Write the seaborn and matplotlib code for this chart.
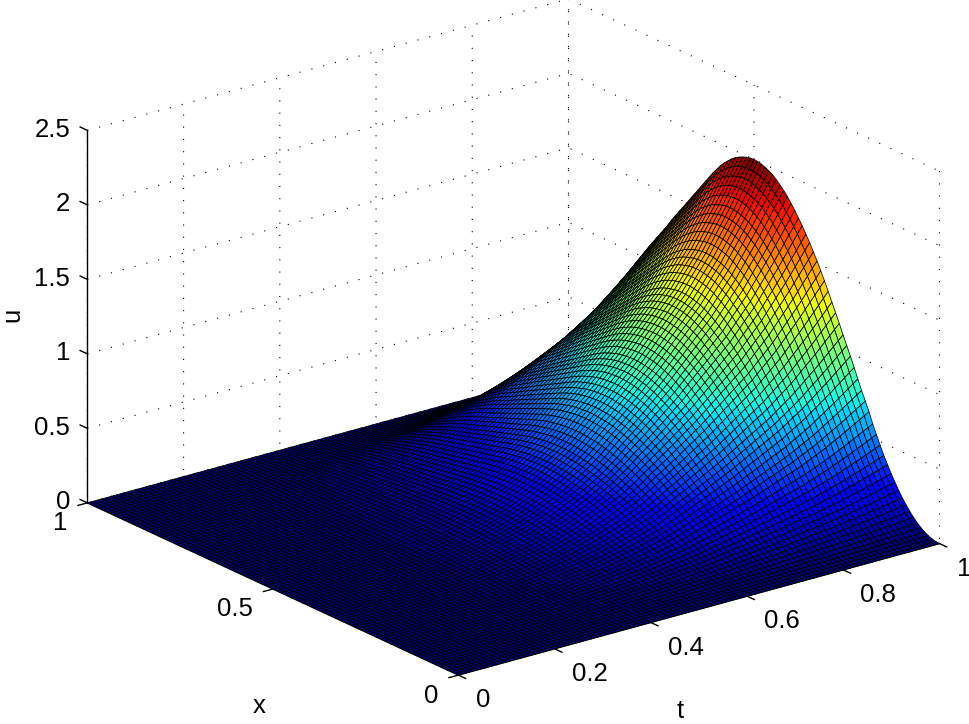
import numpy as np
import matplotlib
matplotlib.use("Agg")
import matplotlib.pyplot as plt
import seaborn as sns

# profiles of u, one value per mesh line (101 lines each way).
# the surface is rebuilt as their product, single cells can't be read one by one
x_profile = [
    0.000, 0.002, 0.008, 0.018, 0.031, 0.049, 0.070, 0.095, 0.124, 0.156,
    0.191, 0.230, 0.273, 0.318, 0.367, 0.418, 0.475, 0.535, 0.595, 0.665,
    0.725, 0.785, 0.850, 0.915, 0.980, 1.040, 1.100, 1.165, 1.225, 1.285,
    1.345, 1.405, 1.460, 1.515, 1.565, 1.615, 1.660, 1.705, 1.745, 1.785,
    1.820, 1.855, 1.885, 1.910, 1.935, 1.955, 1.970, 1.982, 1.992, 1.998,
    2.000, 1.998, 1.992, 1.982, 1.970, 1.955, 1.935, 1.910, 1.885, 1.855,
    1.820, 1.785, 1.745, 1.705, 1.665, 1.625, 1.585, 1.545, 1.505, 1.465,
    1.425, 1.385, 1.345, 1.300, 1.260, 1.220, 1.180, 1.140, 1.100, 1.050,
    1.000, 0.950, 0.900, 0.845, 0.790, 0.730, 0.675, 0.615, 0.550, 0.480,
    0.410, 0.345, 0.285, 0.230, 0.180, 0.140, 0.105, 0.070, 0.040, 0.015,
    0.000,
]
t_profile = [
    0.0000, 0.0000, 0.0000, 0.0000, 0.0000, 0.0000, 0.0000, 0.0001, 0.0001, 0.0002,
    0.0003, 0.0004, 0.0005, 0.0006, 0.0008, 0.0010, 0.0013, 0.0016, 0.0020, 0.0025,
    0.0030, 0.0036, 0.0043, 0.0051, 0.0060, 0.0070, 0.0083, 0.0098, 0.0120, 0.0150,
    0.0180, 0.0205, 0.0230, 0.0260, 0.0285, 0.0310, 0.0345, 0.0385, 0.0420, 0.0460,
    0.0500, 0.0545, 0.0590, 0.0640, 0.0695, 0.0750, 0.0815, 0.0880, 0.0950, 0.1025,
    0.1100, 0.1185, 0.1270, 0.1360, 0.1455, 0.1550, 0.1655, 0.1760, 0.1875, 0.1985,
    0.2100, 0.2240, 0.2380, 0.2530, 0.2690, 0.2850, 0.2995, 0.3140, 0.3290, 0.3445,
    0.3600, 0.3760, 0.3920, 0.4080, 0.4240, 0.4400, 0.4580, 0.4760, 0.4940, 0.5120,
    0.5300, 0.5480, 0.5660, 0.5840, 0.6020, 0.6200, 0.6420, 0.6640, 0.6860, 0.7080,
    0.7300, 0.7560, 0.7820, 0.8080, 0.8340, 0.8600, 0.8880, 0.9160, 0.9440, 0.9720,
    1.0000,
]
t_ticks = [0, 0.2, 0.4, 0.6, 0.8, 1]
x_ticks = [0, 0.5, 1]
u_ticks = [0, 0.5, 1, 1.5, 2, 2.5]

sns.set_theme(style="white", rc={
    "grid.color": "black",
    "grid.linewidth": 0.8,
    "grid.linestyle": (0, (1, 10)),
    "axes.edgecolor": "black",
    "text.color": "black",
    "xtick.color": "black",
    "ytick.color": "black",
    "xtick.bottom": True,
    "ytick.left": True,
})
plt.rcParams["font.family"] = ["Liberation Sans", "DejaVu Sans"]

T, X = np.meshgrid(np.linspace(0, 1, len(t_profile)), np.linspace(0, 1, len(x_profile)))
U = np.outer(x_profile, t_profile)

jet = plt.get_cmap("jet", 64)

fig = plt.figure(figsize=(9.69, 7.24), dpi=100)
ax = fig.add_axes([41 / 969, -85.4 / 724, 920 / 969, 920 / 724], projection="3d")
ax.set_proj_type("ortho")
ax.view_init(elev=20.87, azim=-127.5)
ax.set_box_aspect((607, 610, 399))

ax.plot_surface(T, X, U, rcount=len(x_profile), ccount=len(t_profile), cmap=jet, vmin=0, vmax=U.max(),
                edgecolor="black", linewidth=0.55, shade=False, antialiased=True)

ax.set_xlim(0, 1, view_margin=0)
ax.set_ylim(0, 1, view_margin=0)
ax.set_zlim(0, 2.5, view_margin=0)
ax.set_xticks(t_ticks, ["0", "0.2", "0.4", "0.6", "0.8", "1"])
ax.set_yticks(x_ticks, ["0", "0.5", "1"])
ax.set_zticks(u_ticks, ["0", "0.5", "1", "1.5", "2", "2.5"])
ax.tick_params(labelsize=18.5)
ax.tick_params(axis="x", pad=8)
ax.tick_params(axis="y", pad=6)
ax.tick_params(axis="z", pad=-1)
for lab in ax.get_xticklabels():
    lab.set(ha="left", va="center")
for lab in ax.get_yticklabels():
    lab.set(ha="right", va="center")
for lab in ax.get_zticklabels():
    lab.set(ha="right", va="center")

for axis in (ax.xaxis, ax.yaxis, ax.zaxis):
    axis.pane.set_visible(False)
    axis.line.set_color("black")
    axis.line.set_linewidth(1.0)
    axis._axinfo["tick"]["linewidth"] = {True: 1.0, False: 0.5}
# ticks have to stick out of the box, the sign differs between the axes here
for axis in (ax.xaxis, ax.yaxis):
    axis._axinfo["tick"]["inward_factor"] = 0.25
    axis._axinfo["tick"]["outward_factor"] = 0.0
ax.zaxis._axinfo["tick"]["inward_factor"] = 0.0
ax.zaxis._axinfo["tick"]["outward_factor"] = 0.25
# z ticks point along the x direction as in the reference
ax.zaxis._get_tickdir = lambda pos: 1

fig.text(680 / 969, 1 - 711 / 724, "t", fontsize=18.5, ha="center", va="center")
fig.text(259 / 969, 1 - 706 / 724, "x", fontsize=18.5, ha="center", va="center")
fig.text(12 / 969, 1 - 315 / 724, "u", fontsize=18.5, ha="center", va="center", rotation=90)

fig.savefig("out.png", dpi=100)
